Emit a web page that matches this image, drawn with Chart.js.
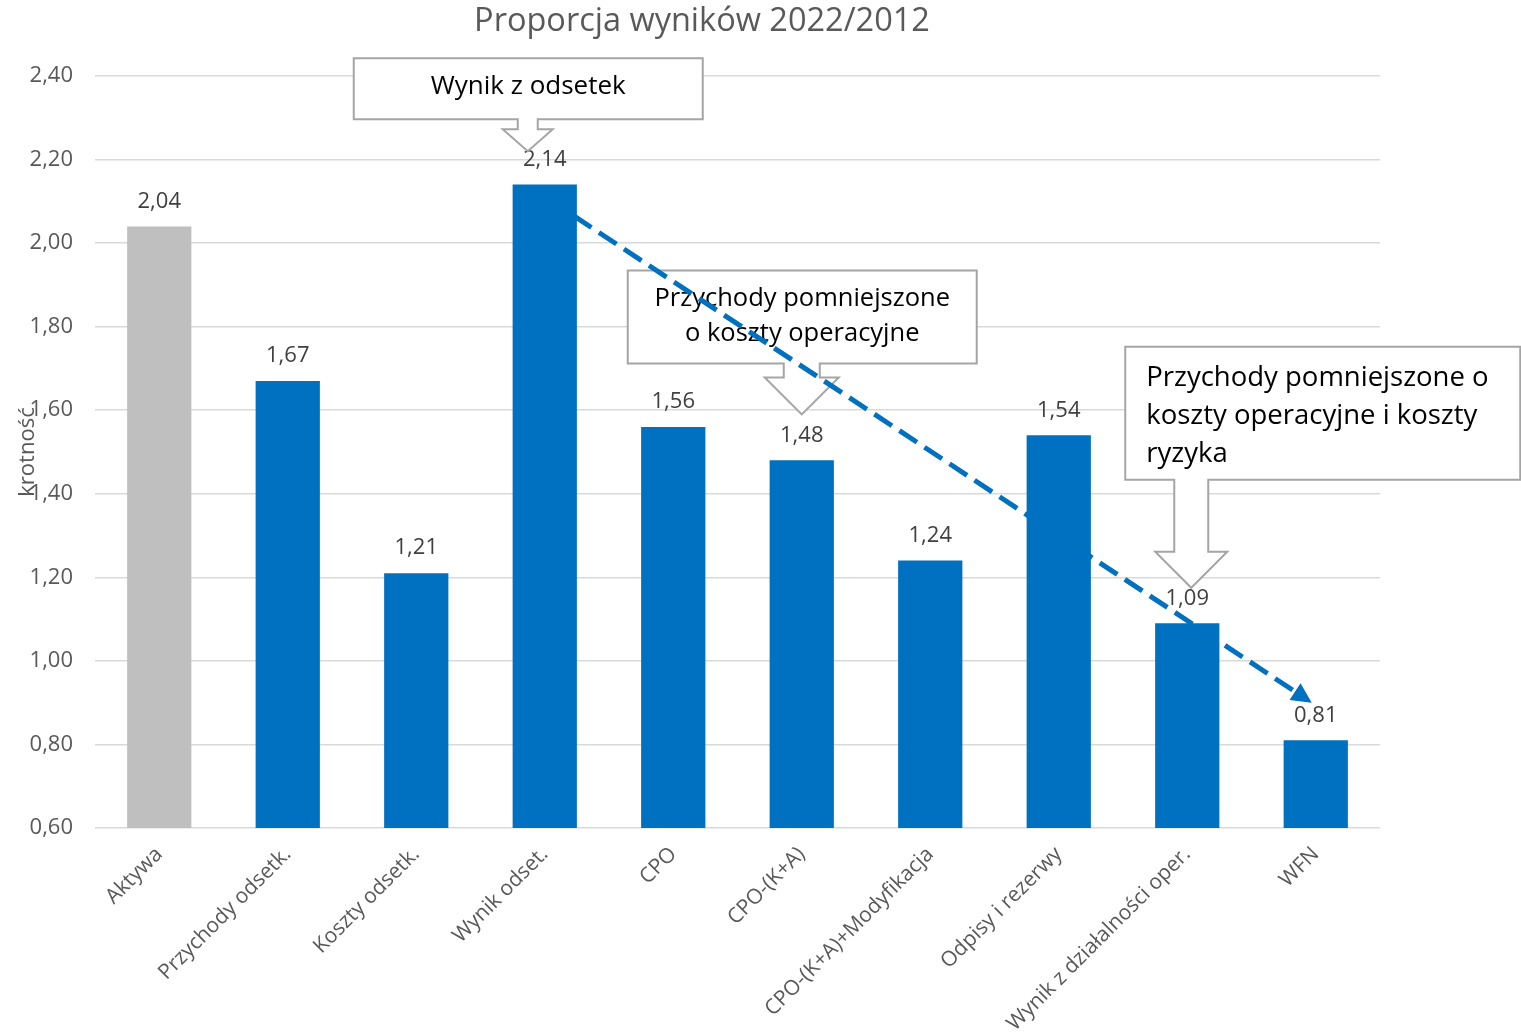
<!DOCTYPE html>
<html lang="pl">
<head>
<meta charset="utf-8">
<title>Proporcja wyników 2022/2012</title>
<script src="https://cdn.jsdelivr.net/npm/chart.js@4/dist/chart.umd.min.js"></script>
<style>
  html, body { margin: 0; padding: 0; background: #ffffff; }
  #wrap { width: 1521px; height: 1034px; }
</style>
</head>
<body>
<div id="wrap"><canvas id="ratioChart" width="1521" height="1034"></canvas></div>
<script>
// data
const categories = ['Aktywa', 'Przychody odsetk.', 'Koszty odsetk.', 'Wynik odset.', 'CPO',
    'CPO-(K+A)', 'CPO-(K+A)+Modyfikacja', 'Odpisy i rezerwy', 'Wynik z działalności oper.', 'WFN'];
const ratios = [2.04, 1.67, 1.21, 2.14, 1.56, 1.48, 1.24, 1.54, 1.09, 0.81];
const yTicks = [0.6, 0.8, 1.0, 1.2, 1.4, 1.6, 1.8, 2.0, 2.2, 2.4];

const chartTitle = 'Proporcja wyników 2022/2012';
const yTitle = 'krotność';
const FONT = "'Open Sans', 'Noto Sans', sans-serif";

const fmt = v => v.toFixed(2).replace('.', ',');

// callouts: tip sits on a category / value, box is given relative to the tip
const callouts = [
    { cat: 3, dx: -17, value: 2.22, lines: ['Wynik z odsetek'], size: 26, align: 'center',
      box: [-174, 175, -93, -32], stem: 10, head: 25, headY: -22, textY: [-65] },
    { cat: 5, dx: 0, value: 1.59, lines: ['Przychody pomniejszone', 'o koszty operacyjne'], size: 25.5, align: 'center',
      box: [-174, 175, -144, -51], stem: 18, head: 37, headY: -37, textY: [-116, -81] },
    { cat: 8, dx: 4, value: 1.175, lines: ['Przychody pomniejszone o', 'koszty operacyjne i koszty', 'ryzyka'], size: 27.5, align: 'left',
      box: [-66, 329, -241, -108], stem: 17, head: 36, headY: -36, textY: [-210, -172, -134] }
];

const annotate = {
    id: 'annotate',
    afterDatasetsDraw(chart) {
        const { ctx, scales: { x, y } } = chart;
        const meta = chart.getDatasetMeta(0);
        ctx.save();

        // value labels
        ctx.font = '22px ' + FONT;
        ctx.fillStyle = '#404040';
        ctx.textAlign = 'center';
        ctx.textBaseline = 'middle';
        meta.data.forEach((bar, i) => {
            ctx.fillText(fmt(ratios[i]), bar.x, bar.y - 25);
        });

        // callouts
        callouts.forEach(c => {
            const tx = x.getPixelForValue(c.cat) + c.dx;
            const ty = y.getPixelForValue(c.value);
            const [l, r, t, b] = c.box;
            ctx.beginPath();
            ctx.moveTo(tx + l, ty + t);
            ctx.lineTo(tx + r, ty + t);
            ctx.lineTo(tx + r, ty + b);
            ctx.lineTo(tx + c.stem, ty + b);
            ctx.lineTo(tx + c.stem, ty + c.headY);
            ctx.lineTo(tx + c.head, ty + c.headY);
            ctx.lineTo(tx, ty);
            ctx.lineTo(tx - c.head, ty + c.headY);
            ctx.lineTo(tx - c.stem, ty + c.headY);
            ctx.lineTo(tx - c.stem, ty + b);
            ctx.lineTo(tx + l, ty + b);
            ctx.closePath();
            ctx.fillStyle = '#ffffff';
            ctx.fill();
            ctx.lineWidth = 2;
            ctx.strokeStyle = '#a5a5a5';
            ctx.stroke();

            ctx.font = c.size + 'px ' + FONT;
            ctx.fillStyle = '#000000';
            ctx.textAlign = c.align;
            ctx.textBaseline = 'middle';
            const cx = c.align === 'center' ? tx + (l + r) / 2 : tx + l + 21;
            c.lines.forEach((line, i) => ctx.fillText(line, cx, ty + c.textY[i]));
        });

        // dashed trend arrow from "Wynik odset." down to "WFN"
        const from = meta.data[3];
        const to = meta.data[9];
        const x0 = from.x + from.width / 2 - 3, y0 = y.getPixelForValue(2.065);
        const x1 = to.x - 4, y1 = y.getPixelForValue(0.90);
        const ang = Math.atan2(y1 - y0, x1 - x0);
        const headLen = 20, headW = 10;
        ctx.strokeStyle = '#0070c0';
        ctx.fillStyle = '#0070c0';
        ctx.lineWidth = 5;
        ctx.setLineDash([21, 9]);
        ctx.beginPath();
        ctx.moveTo(x0, y0);
        ctx.lineTo(x1 - Math.cos(ang) * headLen, y1 - Math.sin(ang) * headLen);
        ctx.stroke();
        ctx.setLineDash([]);
        ctx.beginPath();
        ctx.moveTo(x1, y1);
        ctx.lineTo(x1 - Math.cos(ang) * headLen - Math.sin(ang) * headW,
                   y1 - Math.sin(ang) * headLen + Math.cos(ang) * headW);
        ctx.lineTo(x1 - Math.cos(ang) * headLen + Math.sin(ang) * headW,
                   y1 - Math.sin(ang) * headLen - Math.cos(ang) * headW);
        ctx.closePath();
        ctx.fill();

        ctx.restore();
    },
    afterDraw(chart) {
        const { ctx, chartArea } = chart;
        ctx.save();
        ctx.fillStyle = '#595959';
        ctx.textAlign = 'center';
        ctx.textBaseline = 'middle';
        ctx.font = '32.5px ' + FONT;
        ctx.fillText(chartTitle, 702, 22);

        ctx.translate(28, (chartArea.top + chartArea.bottom) / 2);
        ctx.rotate(-Math.PI / 2);
        ctx.font = '22px ' + FONT;
        ctx.fillText(yTitle, 0, 0);
        ctx.restore();
    }
};

const ctx = document.getElementById('ratioChart').getContext('2d');
new Chart(ctx, {
    type: 'bar',
    data: {
        labels: categories,
        datasets: [{
            data: ratios,
            backgroundColor: ratios.map((v, i) => i === 0 ? '#bfbfbf' : '#0070c0'),
            barPercentage: 0.5,
            categoryPercentage: 1.0
        }]
    },
    options: {
        responsive: false,
        animation: false,
        devicePixelRatio: 1,
        layout: {
            padding: { left: 0, right: 141, top: 76, bottom: 0 }
        },
        plugins: {
            legend: { display: false },
            title: { display: false },
            tooltip: { enabled: false }
        },
        scales: {
            x: {
                afterFit(scale) { scale.height = 206; },
                grid: { display: false },
                border: { display: false },
                ticks: {
                    autoSkip: false,
                    minRotation: 45,
                    maxRotation: 45,
                    padding: 6,
                    color: '#595959',
                    font: { family: FONT, size: 21 }
                }
            },
            y: {
                min: yTicks[0],
                max: yTicks[yTicks.length - 1],
                afterFit(scale) { scale.width = 95; },
                afterBuildTicks(scale) { scale.ticks = yTicks.map(v => ({ value: v })); },
                border: { display: false },
                grid: {
                    color: '#d9d9d9',
                    lineWidth: 1.5,
                    drawTicks: false
                },
                ticks: {
                    padding: 22,
                    color: '#595959',
                    font: { family: FONT, size: 22 },
                    callback: v => fmt(v)
                }
            }
        }
    },
    plugins: [annotate]
});
</script>
</body>
</html>
